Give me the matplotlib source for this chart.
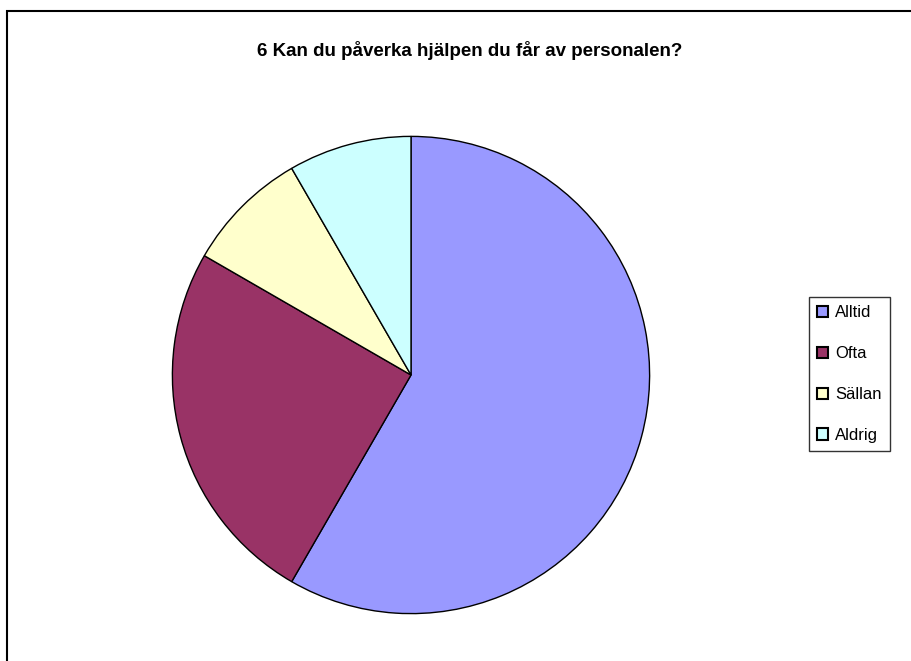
import matplotlib.pyplot as plt
from matplotlib.patches import Rectangle

plt.rcParams['font.family'] = ['Liberation Sans', 'DejaVu Sans']

title = '6 Kan du påverka hjälpen du får av personalen?'
labels = ['Alltid', 'Ofta', 'Sällan', 'Aldrig']
values = [7, 3, 1, 1]
colors = ['#9999FF', '#993366', '#FFFFCC', '#CCFFFF']

W, H = 912, 661
fig = plt.figure(figsize=(W / 100, H / 100), dpi=100)

# outer chart frame (runs off the right and bottom edges)
fig.patches.append(Rectangle((7 / W, -0.1), 1.2, 1 - 11 / H + 0.1,
                             transform=fig.transFigure, fill=False,
                             edgecolor='black', linewidth=1.5))

cx, cy, r = 411, 375, 241
ax = fig.add_axes([(cx - r) / W, 1 - (cy + r) / H, 2 * r / W, 2 * r / H])
wedges, _ = ax.pie(values, colors=colors, startangle=90, counterclock=False,
                   radius=1, wedgeprops=dict(edgecolor='black', linewidth=1))
ax.set_xlim(-1.01, 1.01)
ax.set_ylim(-1.01, 1.01)
ax.set_aspect('equal')
ax.axis('off')

fig.text(470 / W, 1 - 50 / H, title, ha='center', va='center',
         fontsize=13.5, fontweight='bold')

leg = fig.legend(wedges, labels, loc='upper left',
                 bbox_to_anchor=(809 / W, 1 - 297 / H),
                 frameon=True, fancybox=False, shadow=False,
                 fontsize=12, handlelength=0.65, handleheight=0.65,
                 handletextpad=0.4, labelspacing=1.55, borderpad=0.5,
                 borderaxespad=0)
leg.get_frame().set_edgecolor('black')
leg.get_frame().set_linewidth(1)
for h in leg.legend_handles:
    h.set_edgecolor('black')
    h.set_linewidth(1.5)

fig.savefig('out.png', dpi=100)
